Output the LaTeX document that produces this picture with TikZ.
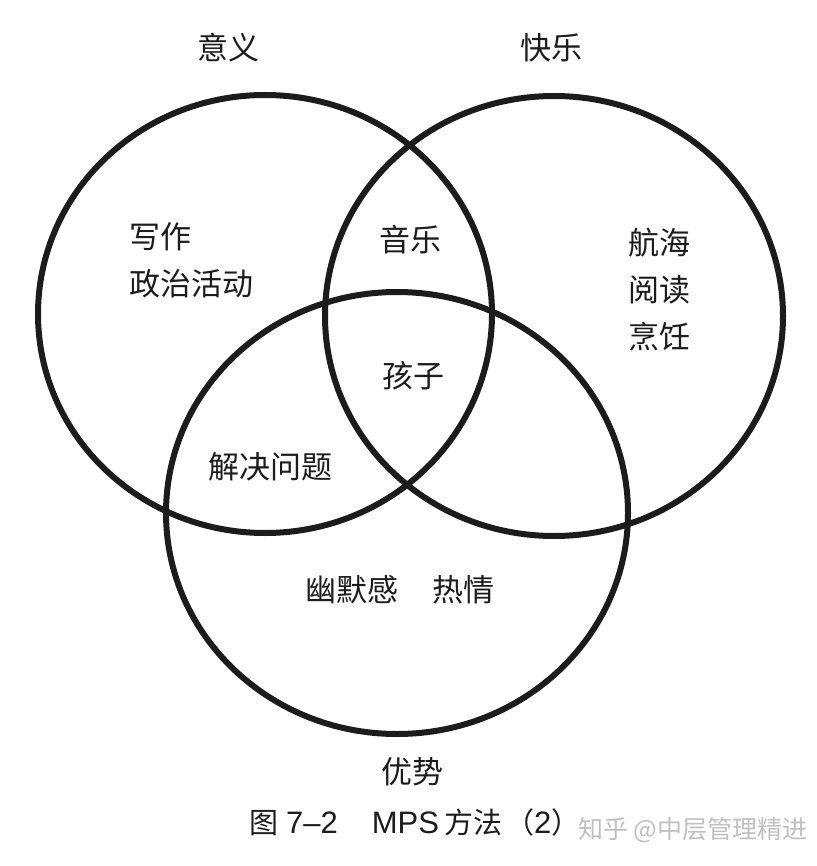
\documentclass[tikz,border=0pt]{standalone}
\usepackage{fontspec}
\setmainfont{Noto Sans CJK SC}
\newfontfamily\lat{Liberation Sans}
\usetikzlibrary{positioning}
\definecolor{ink}{RGB}{28,28,28}
\definecolor{wmark}{RGB}{192,192,192}

\begin{document}
\begin{tikzpicture}[x=1pt,y=-1pt,font=\fontsize{31}{47}\selectfont]
\tikzset{ring/.style={draw=ink,line width=6pt},
  word/.style={text=ink,inner sep=0pt,align=left},
  figcap/.style={word,font=\fontsize{29}{34}\selectfont},
  wm/.style={word,text=wmark,font=\fontsize{25}{30}\selectfont}}
\newcommand\latc[1]{{\lat\fontsize{31}{34}\selectfont #1}}
\useasboundingbox[fill=white] (0,0) rectangle (816,866);
% circle centres
\coordinate (mean) at (265,314);
\coordinate (joy) at (554,316);
\coordinate (str) at (397,513);
\draw[ring] (mean) ellipse [x radius=227,y radius=219];
\draw[ring] (joy) ellipse [x radius=229,y radius=220];
\draw[ring] (str) ellipse [x radius=231,y radius=221];
% set titles
\node[word] (tmean) at (228,48) {意义};
\node[word] (tjoy) at (551,48) {快乐};
\node[word] (tstr) at (412,772) {优势};
% contents
\node[word,anchor=west] (write) at (129,260) {写作\\政治活动};
\node[word] (music) at (410,240) {音乐};
\node[word] (sail) at (659,290) {航海\\阅读\\烹饪};
\node[word] (kids) at (413,376) {孩子};
\node[word] (solve) at (270,467) {解决问题};
\node[word] (humor) at (352,590) {幽默感};
\node[word,right=34pt of humor] (pass) {热情};
% caption
\node[figcap,anchor=west] (fig) at (249,822) {图\hspace{8pt}\latc{7–2}\hspace{34pt}\latc{MPS}\hspace{5pt}方法\hspace{3pt}（\latc{2}）};
\node[wm,anchor=west] (zh) at (578,830) {知乎 @中层管理精进};
\end{tikzpicture}
\end{document}
